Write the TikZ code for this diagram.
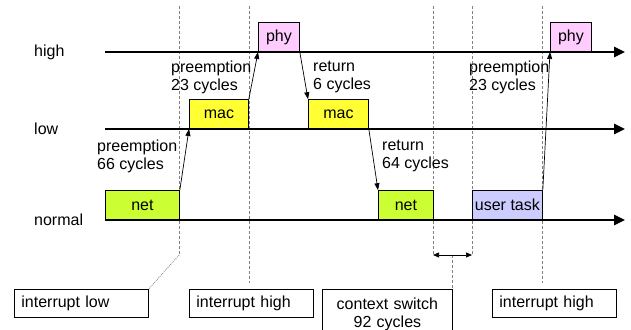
\documentclass[tikz,border=0pt]{standalone}
\usepackage{fontspec}
\setmainfont{Liberation Sans}
\usetikzlibrary{arrows.meta,calc}

\definecolor{phycol}{RGB}{255,204,255}
\definecolor{maccol}{RGB}{255,255,51}
\definecolor{netcol}{RGB}{204,255,51}
\definecolor{usercol}{RGB}{204,204,255}

\begin{document}
\begin{tikzpicture}[x=1pt,y=-1pt,
    font=\fontsize{16}{18}\selectfont,
    level/.style={line width=2.5pt,-{Triangle[length=11pt,width=10pt]}},
    task/.style={draw,line width=0.8pt,minimum height=29pt,anchor=south west,inner sep=0pt},
    call/.style={line width=0.7pt,-{Triangle[length=7pt,width=5pt]}},
    guide/.style={gray,dash pattern=on 3pt off 2pt,line width=0.7pt},
    note/.style={draw,line width=0.8pt,anchor=north west,minimum height=28pt,text width=110pt,inner xsep=7pt,align=left},
    lbl/.style={anchor=west,align=left,inner sep=0pt}]

    \clip (0,0) rectangle (631,329);

    % guide lines
    \foreach \x/\n in {179/vA,249/vB,433/vC,472/vD,542/vE} \coordinate (\n) at (\x,6);
    \coordinate (csL) at (433,255);
    \coordinate (csR) at (472,255);
    \coordinate (csM) at ($(csL)!0.5!(csR)$);

    % notes
    \node[note,text width=120pt] (intLow) at (14,289) {interrupt low};
    \node[note] (intHighA) at (189,289) {interrupt high};
    \node[note,text width=116pt,align=center,minimum height=50pt] (ctx) at (322,289) {context switch\\92 cycles};
    \node[note] (intHighB) at (492,289) {interrupt high};

    \draw[guide] (vA) -- (vA |- csL) coordinate (bend);
    \draw[guide,dash pattern=on 1pt off 1pt] (bend) -- (intLow.north east);
    \draw[guide,shorten >=6pt] (vB) -- (vB |- intHighA.north);
    \draw[guide] (vC) -- (csL);
    \draw[guide] (vD) -- (csR);
    \draw[guide,shorten >=6pt] (vE) -- (vE |- intHighB.north);
    \draw[guide] (csM) -- (csM |- ctx.north);
    \draw[line width=0.7pt,{Triangle[length=6pt,width=5pt]}-{Triangle[length=6pt,width=5pt]}] (csL) -- (csR);

    % tasks
    \node[task,fill=netcol,minimum width=74pt] (netA) at (105,220) {net};
    \node[task,fill=maccol,minimum width=59pt] (macA) at (189,129) {mac};
    \node[task,fill=phycol,minimum width=41pt] (phyA) at (258,52) {phy};
    \node[task,fill=maccol,minimum width=60pt] (macB) at (308,129) {mac};
    \node[task,fill=netcol,minimum width=55pt] (netB) at (378,220) {net};
    \node[task,fill=usercol,minimum width=70pt] (user) at (472,220) {user task};
    \node[task,fill=phycol,minimum width=41pt] (phyB) at (550,52) {phy};

    % priority levels
    \foreach \y/\name in {52/high,129/low,220/normal}{
        \node[lbl] (lbl-\name) at (34,\y) {\name};
        \draw[level] (105,\y) -- (625,\y);
    }

    % switches
    \draw[call] (netA.north east) -- (macA.south west);
    \draw[call] (macA.north east) -- (phyA.south west);
    \draw[call] (phyA.south east) -- (macB.north west);
    \draw[call] (macB.south east) -- (netB.north west);
    \draw[call] (user.north east) -- (phyB.south west);

    % labels
    \node[lbl] (preA) at (97,156) {preemption\\66 cycles};
    \node[lbl] (preB) at (171,77) {preemption\\23 cycles};
    \node[lbl] (retA) at (313,77) {return\\6 cycles};
    \node[lbl] (retB) at (382,156) {return\\64 cycles};
    \node[lbl] (preC) at (469,77) {preemption\\23 cycles};

\end{tikzpicture}
\end{document}
